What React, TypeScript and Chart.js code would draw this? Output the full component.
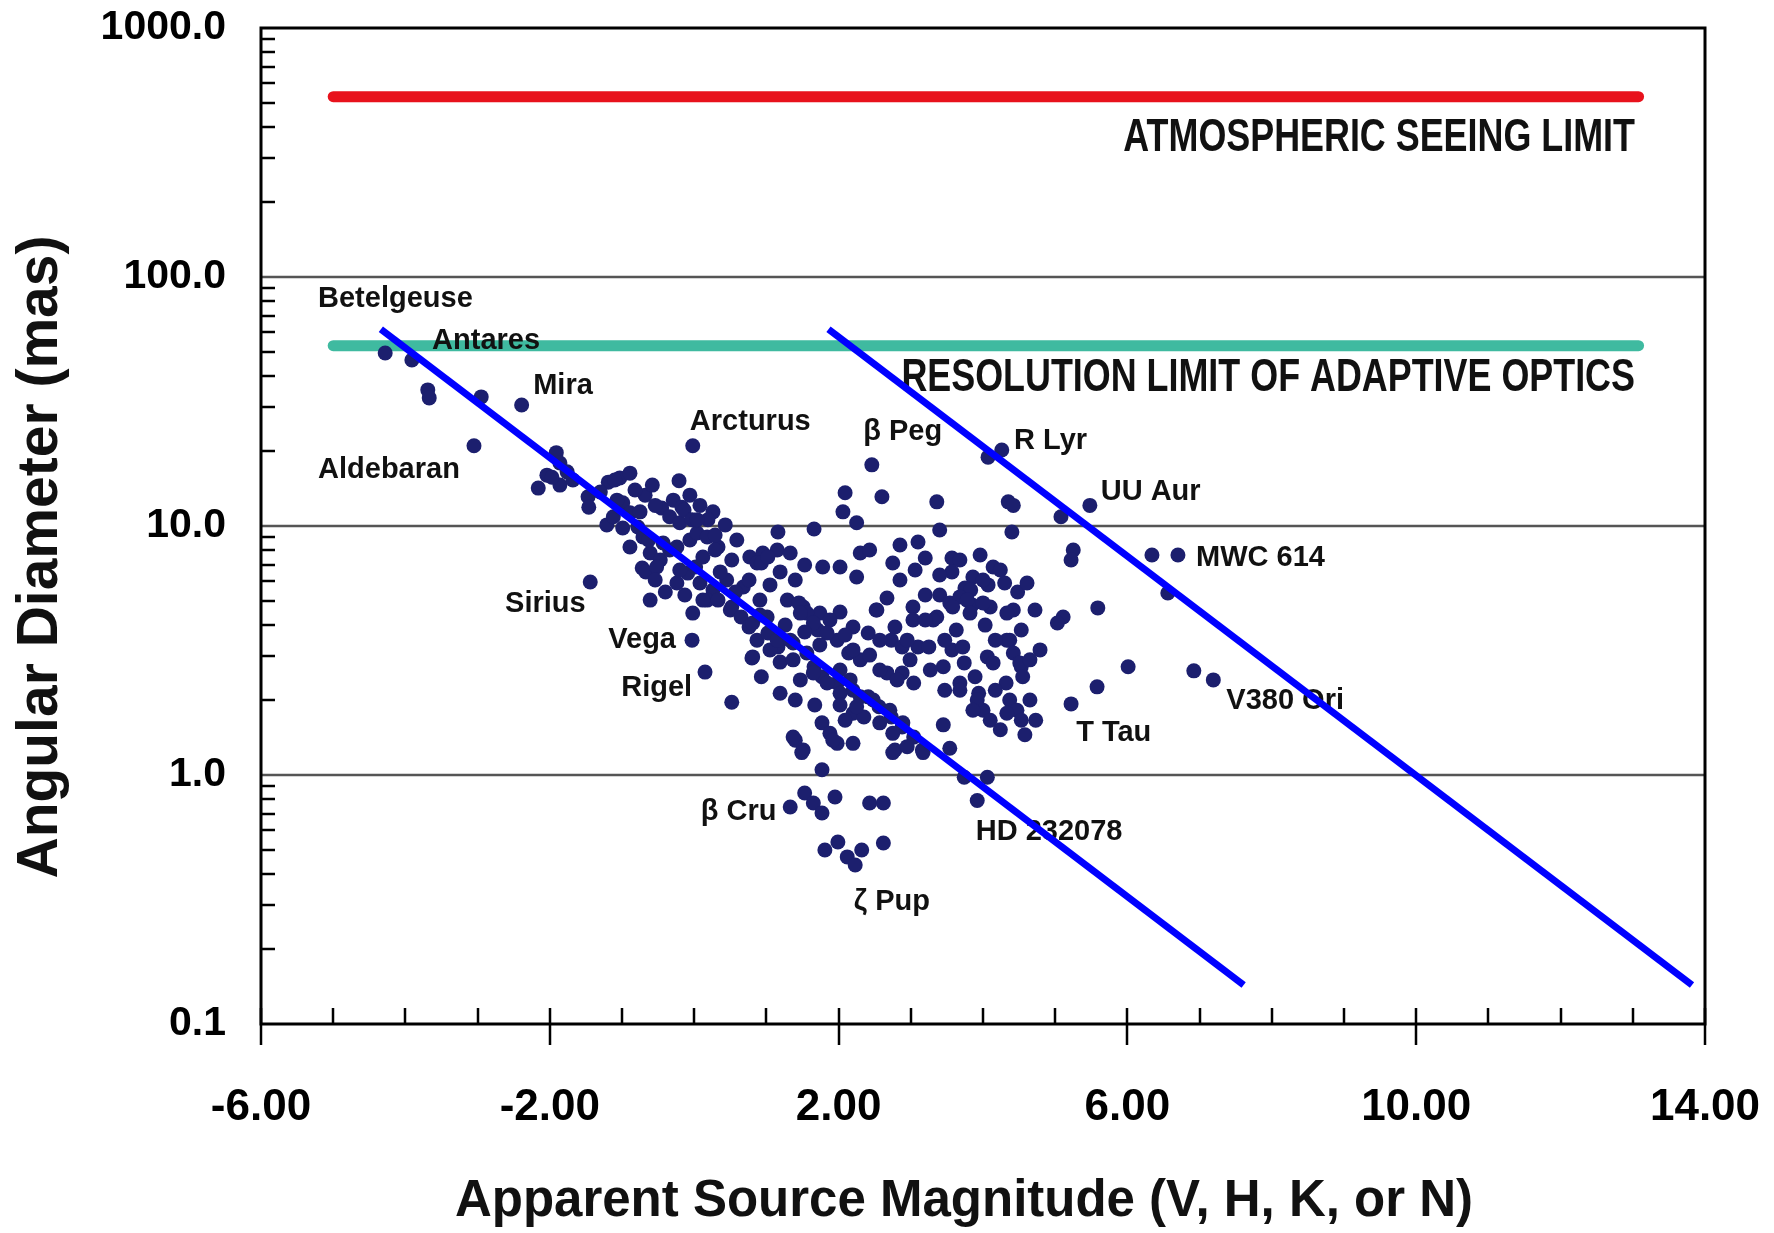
import { useEffect, useRef } from 'react';
import { Chart, registerables } from 'chart.js';

Chart.register(...registerables);

const FONT = "'Liberation Sans', Arial, Helvetica, sans-serif";

// Axis ticks
const xTicks = [-6, -2, 2, 6, 10, 14];
const yTicks = [0.1, 1, 10, 100, 1000];
const gridValues = [1, 10, 100];

// Measured stars: apparent magnitude and angular diameter (mas)
const starMag = [
  -4.28, -3.91, -3.69, -3.67, -2.95, -2.39, -3.05, -0.02, -1.91, -1.86,
  -2.04, -2.16, -1.86, -1.68, -1.76, -1.97, -1.47, -1.46, -1.19, -1.03,
  -0.89, -0.68, -0.21, -0.45, -0.29, -0.17, -0.34, -0.2, 0.26, 0.19,
  -1.21, -0.99, -0.89, -1.12, -0.99, -0.78, -0.89, -0.71, -0.61, -0.72,
  -0.47, -0.34, -0.06, 0.04, 0.18, 0.33, 0.59, 1.16, 1.66, 0.77,
  0.95, 1.15, 1.33, 0.87, -0.24, -0.09, 0.08, 0.26, 0.45, 0.68,
  0.18, 1.78, 2.02, 2.09, 2.06, 2.25, 2.25, -1.44, 1.29, 1.51,
  1.74, 2.02, -0.02, 0.5, 2.46, 2.6, 3.36, 4.07, 4.26, 4.35,
  4.42, 4.4, 5.08, 5.48, 5.25, 5.22, 6.34, 6.7, 6.56, 2.3,
  2.43, 2.75, 3.1, 3.2, 3.57, 3.57, 4.14, 3.86, 3.75, 4.07,
  4.3, 4.48, 4.61, 2.67, 2.53, 3.03, 3.2, 3.4, 3.54, 3.85,
  4.1, 4.42, 4.72, 5.11, 5.59, -1.1, -0.14, -0.03, -0.63, -0.43,
  -0.24, -0.67, -0.52, -0.2, 0.02, 0.12, 0.29, 0.52, 0.76, 0.93,
  1.02, 0.33, 0.12, 0.52, 0.65, 0.76, 0.87, 1.02, 1.16, 0.81,
  0.93, 1.19, 1.45, 1.56, 1.88, 1.71, 2.2, 1.98, 2.14, 2.3,
  2.41, 2.52, 2.78, 2.73, 2.88, 3.1, 3.25, 2.99, 2.88, 3.04,
  1.66, 1.77, 1.98, 2.2, 2.41, 2.56, 2.73, 2.88, 3.04, 3.16,
  2.78, 2.2, 2.35, 2.09, 1.77, 1.88, 1.98, 2.2, 1.4, 1.51,
  1.77, 3.45, 3.54, 3.74, 4.06, 3.92, 4.0, 3.83, 3.68, 3.36,
  3.63, 3.78, 4.0, 4.53, 4.37, 4.42, 4.53, 4.79, 3.57, 3.74,
  3.68, 3.89, 3.94, 4.0, 4.1, 4.32, 4.37, 4.47, 4.53, 4.73,
  5.22, 5.58, 6.01, 6.92, 7.19, -0.03, 0.15, 0.52, 0.8, 1.05,
  1.19, 1.37, 1.15, 1.37, 1.56, 1.65, 1.84, 2.02, 2.16, 2.3,
  2.25, 2.48, 2.57, 2.71, 2.75, 2.89, 2.95, 2.75, 3.17, 1.92,
  1.37, 1.49, 1.33, 1.53, 1.65, 1.77, 1.95, 2.43, 2.62, 1.81,
  1.99, 2.12, 2.23, 2.32, 2.62, 3.58, 3.82, 4.33, 4.33, 4.51,
  4.55, 4.33, 3.45, 3.68, 3.92, 3.86, 4.06, 4.14, 3.72, 2.67,
  2.81, 1.47, 1.65, 1.84, 2.2, 2.95, 3.31, 3.03, 5.03, 0.81,
  1.01, -1.3, -1.07, -0.82, -0.58, -0.54, -0.75, 0.04, 0.08, -0.06,
  0.43, 0.29, -0.54, -0.4, -0.13, 0.36, 0.57, 0.91, 1.05, 1.19,
  1.4, 1.53, -0.61, 0.91, 1.26, 1.33, 1.53, 1.74, 2.09, 2.43,
  2.57, 2.57, 2.02, 1.47, 1.4, 1.67, 2.02, 3.2, 3.47, 3.27,
  3.47, 4.17, 4.17, 4.65, 4.65, 4.03, 4.24, 4.58, 2.85, 3.06,
  3.4, 3.68, 3.96, 4.24, 2.85, 3.4,
];

const starDiam = [
  49.5, 46.4, 35.2, 32.7, 33.0, 30.6, 21.0, 21.0, 19.7, 17.9,
  16.0, 14.2, 14.6, 15.3, 16.5, 15.7, 13.1, 11.9, 15.0, 15.6,
  16.3, 13.3, 15.2, 11.8, 12.7, 11.9, 10.9, 10.3, 11.4, 10.6,
  10.1, 12.4, 11.3, 10.9, 9.82, 9.91, 8.24, 9.03, 7.79, 6.78,
  7.3, 8.01, 8.79, 9.37, 9.03, 8.24, 8.79, 9.46, 9.73, 7.51,
  7.79, 8.01, 7.79, 7.1, 5.9, 6.47, 5.9, 5.53, 6.07, 5.69,
  5.04, 6.84, 6.84, 13.6, 11.4, 10.3, 6.24, 5.96, 5.04, 4.73,
  4.47, 4.51, 4.47, 4.6, 17.6, 13.1, 12.5, 18.9, 20.2, 12.5,
  12.1, 9.46, 10.9, 12.1, 8.01, 7.3, 7.65, 7.65, 5.38, 7.79,
  8.01, 7.1, 8.62, 7.44, 7.44, 6.54, 6.84, 6.24, 5.64, 5.8,
  5.9, 5.43, 5.9, 5.14, 4.6, 4.73, 5.28, 5.28, 4.91, 4.82,
  4.73, 4.6, 4.6, 4.31, 4.69, 15.3, 11.6, 10.6, 8.79, 8.55,
  8.24, 6.54, 6.84, 6.66, 6.84, 7.51, 8.01, 7.3, 6.07, 7.1,
  7.51, 5.04, 5.04, 4.73, 4.31, 3.93, 3.48, 3.72, 3.27, 2.98,
  2.48, 2.13, 4.91, 4.47, 4.19, 3.82, 3.93, 3.48, 3.09, 2.9,
  3.72, 4.6, 3.93, 3.48, 3.27, 3.27, 3.27, 2.9, 2.57, 2.34,
  2.72, 2.48, 2.34, 2.19, 2.06, 1.88, 1.71, 1.56, 1.42, 1.26,
  1.26, 1.77, 1.71, 1.66, 1.62, 1.47, 1.34, 1.34, 1.38, 1.26,
  1.05, 1.59, 1.28, 0.98, 0.98, 0.79, 6.07, 5.53, 5.19, 4.31,
  3.82, 5.04, 4.91, 3.82, 3.48, 3.09, 2.72, 3.18, 3.18, 2.82,
  2.34, 2.48, 2.13, 1.82, 1.66, 2.34, 2.0, 1.82, 1.66, 1.66,
  1.93, 2.26, 2.72, 2.62, 2.41, 3.48, 2.59, 1.96, 2.95, 3.18,
  2.84, 2.9, 3.48, 3.39, 3.09, 2.57, 2.34, 2.13, 2.41, 2.06,
  1.88, 2.0, 1.62, 1.82, 1.47, 1.62, 1.3, 1.23, 1.23, 1.38,
  1.42, 1.23, 0.744, 0.847, 0.772, 0.704, 0.816, 0.772, 0.772, 0.5,
  0.538, 0.469, 0.435, 0.5, 0.533, 4.73, 4.47, 4.47, 3.48, 2.82,
  2.48, 1.77, 2.72, 2.19, 2.0, 1.82, 2.98, 2.82, 3.27, 2.57,
  2.41, 4.47, 4.08, 3.72, 3.18, 3.48, 4.19, 4.19, 4.08, 4.08,
  4.31, 13.7, 12.7, 13.95, 14.6, 12.1, 11.4, 10.6, 12.1, 13.3,
  10.1, 9.2, 6.07, 5.43, 5.28, 6.54, 5.43, 5.04, 5.8, 6.54,
  6.07, 6.97, 5.04, 4.39, 4.0, 3.48, 3.75, 3.33, 3.65, 3.03,
  3.48, 2.64, 2.64, 2.41, 2.0, 1.91, 1.91, 4.19, 3.48, 2.64,
  2.19, 3.48, 2.19, 2.0, 2.9, 4.0, 1.52, 1.45, 6.07, 6.66,
  6.36, 7.3, 7.65, 6.66, 8.39, 9.64,
];

// Named stars: label text and the label's left-middle anchor (mag, mas)
const starLabels = [
  'Betelgeuse', 'Antares', 'Mira', 'Aldebaran', 'Arcturus', 'β Peg', 'R Lyr',
  'UU Aur', 'MWC 614', 'Sirius', 'Vega', 'Rigel', 'V380 Ori', 'T Tau',
  'β Cru', 'HD 232078', 'ζ Pup',
];
const labelMag = [
  -5.21, -3.63, -2.23, -5.21, -0.06, 2.34, 4.43,
  5.63, 6.95, -2.62, -1.19, -1.01, 7.37, 5.29,
  0.09, 3.9, 2.21,
];
const labelDiam = [
  81.6, 55.3, 36.5, 16.8, 26.2, 23.8, 21.9,
  13.7, 7.44, 4.86, 3.48, 2.24, 1.98, 1.47,
  0.71, 0.59, 0.309,
];

// Resolution limits (horizontal bands)
const limitNames = ['ATMOSPHERIC SEEING LIMIT', 'RESOLUTION LIMIT OF ADAPTIVE OPTICS'];
const limitDiam = [530, 53];
const limitMagStart = -5;
const limitMagEnd = 13.08;
const limitLabelMag = 13.03;
const limitLabelDiam = [361, 39.3];
const limitColors = ['#e8121c', '#3fbaa0'];

// Sensitivity limits (diagonal lines): start/end magnitude and diameter
const trendMagStart = [-4.34, 1.86];
const trendMagEnd = [7.61, 13.82];
const trendDiamStart = 61.7;
const trendDiamEnd = 0.1434;

const NAVY = '#1c1f6e';
const BLUE = '#0000ff';

function drawText(
  ctx: CanvasRenderingContext2D,
  text: string,
  x: number,
  y: number,
  size: number,
  align: CanvasTextAlign,
  baseline: CanvasTextBaseline,
  sx = 1,
  rotate = 0,
) {
  ctx.save();
  ctx.font = `bold ${size}px ${FONT}`;
  ctx.fillStyle = '#111';
  ctx.textAlign = align;
  ctx.textBaseline = baseline;
  ctx.translate(x, y);
  if (rotate) ctx.rotate(rotate);
  ctx.scale(sx, 1);
  ctx.fillText(text, 0, 0);
  ctx.restore();
}

const decorations = {
  id: 'decorations',
  beforeDatasetsDraw(chart: any) {
    const { ctx, chartArea: a, scales } = chart;
    const y = scales.y;
    ctx.save();
    ctx.strokeStyle = '#555';
    ctx.lineWidth = 2.5;
    for (const v of gridValues) {
      const py = Math.round(y.getPixelForValue(v));
      ctx.beginPath();
      ctx.moveTo(a.left, py);
      ctx.lineTo(a.right, py);
      ctx.stroke();
    }
    ctx.restore();
  },
  afterDatasetDraw(chart: any, args: any) {
    if (args.index !== 0) return;
    const { ctx, scales } = chart;
    const x = scales.x;
    const y = scales.y;
    starLabels.forEach((t, i) => {
      drawText(ctx, t, x.getPixelForValue(labelMag[i]), y.getPixelForValue(labelDiam[i]), 29, 'left', 'middle');
    });
    limitNames.forEach((t, i) => {
      drawText(ctx, t, x.getPixelForValue(limitLabelMag), y.getPixelForValue(limitLabelDiam[i]), 46, 'right', 'middle', 0.78);
    });
  },
  afterDraw(chart: any) {
    const { ctx, chartArea: a, scales } = chart;
    const x = scales.x;
    const y = scales.y;
    ctx.save();
    ctx.strokeStyle = '#000';
    ctx.lineWidth = 3;
    ctx.strokeRect(a.left, a.top, a.right - a.left, a.bottom - a.top);
    ctx.lineWidth = 2.5;
    ctx.beginPath();
    for (let k = -1; k <= 2; k++) {
      for (let m = 2; m <= 9; m++) {
        const py = Math.round(y.getPixelForValue(m * Math.pow(10, k)));
        ctx.moveTo(a.left, py);
        ctx.lineTo(a.left + 14, py);
      }
    }
    for (let v = -6; v <= 14; v++) {
      const px = Math.round(x.getPixelForValue(v));
      ctx.moveTo(px, a.bottom - 16);
      ctx.lineTo(px, xTicks.includes(v) ? a.bottom + 21 : a.bottom);
    }
    ctx.stroke();
    ctx.restore();

    drawText(ctx, 'Apparent Source Magnitude (V, H, K, or N)', 964, 1216, 51, 'center', 'alphabetic');
    drawText(ctx, 'Angular Diameter (mas)', 57, 557, 57, 'center', 'alphabetic', 1, -Math.PI / 2);
  },
};

// Keep the plot frame fixed: no extra room for overhanging tick labels
function zeroPadding(s: any) {
  s.paddingLeft = 0;
  s.paddingRight = 0;
  s.paddingTop = 0;
  s.paddingBottom = 0;
}

export default function App() {
  const ref = useRef<HTMLCanvasElement>(null);

  useEffect(() => {
    const stars = starMag.map((m, i) => ({ x: m, y: starDiam[i] }));
    const limitSets = limitDiam.map((d, i) => ({
      data: [
        { x: limitMagStart, y: d },
        { x: limitMagEnd, y: d },
      ],
      showLine: true,
      borderColor: limitColors[i],
      borderWidth: 11,
      borderCapStyle: 'round' as const,
      pointRadius: 0,
      order: 3,
    }));
    const trendSets = trendMagStart.map((m, i) => ({
      data: [
        { x: m, y: trendDiamStart },
        { x: trendMagEnd[i], y: trendDiamEnd },
      ],
      showLine: true,
      borderColor: BLUE,
      borderWidth: 7,
      pointRadius: 0,
      order: 1,
    }));

    const tickFont = (size: number) => ({ family: FONT, size, weight: 'bold' as const });

    const chart = new Chart(ref.current!, {
      type: 'scatter',
      data: {
        datasets: [
          {
            data: stars,
            backgroundColor: NAVY,
            borderWidth: 0,
            pointRadius: 7.5,
            pointHoverRadius: 7.5,
            order: 2,
          },
          ...limitSets,
          ...trendSets,
        ] as any,
      },
      options: {
        responsive: false,
        animation: false,
        devicePixelRatio: 1,
        events: [],
        layout: { padding: { left: 0, top: 28, right: 69, bottom: 0 } },
        plugins: { legend: { display: false }, tooltip: { enabled: false } },
        scales: {
          x: {
            type: 'linear',
            min: -6,
            max: 14,
            grid: { display: false, drawTicks: false },
            border: { display: false },
            afterBuildTicks: (s: any) => {
              s.ticks = xTicks.map((v) => ({ value: v }));
            },
            afterFit: (s: any) => {
              s.height = 209;
              zeroPadding(s);
            },
            ticks: {
              autoSkip: false,
              maxRotation: 0,
              padding: 57,
              color: '#000',
              font: tickFont(44),
              callback: (v: any) => Number(v).toFixed(2),
            },
          },
          y: {
            type: 'logarithmic',
            min: 0.1,
            max: 1000,
            grid: { display: false, drawTicks: false },
            border: { display: false },
            afterBuildTicks: (s: any) => {
              s.ticks = yTicks.map((v) => ({ value: v }));
            },
            afterFit: (s: any) => {
              s.width = 261;
              zeroPadding(s);
            },
            ticks: {
              autoSkip: false,
              padding: 35,
              color: '#000',
              font: tickFont(41),
              callback: (v: any) => (Number(v) >= 1 ? Number(v).toFixed(1) : String(v)),
            },
          },
        },
      } as any,
      plugins: [decorations],
    });

    return () => chart.destroy();
  }, []);

  return (
    <div style={{ position: 'absolute', left: 0, top: 0, width: 1774, height: 1233, background: '#fff', overflow: 'hidden' }}>
      <canvas ref={ref} width={1774} height={1233} style={{ display: 'block' }} />
    </div>
  );
}
